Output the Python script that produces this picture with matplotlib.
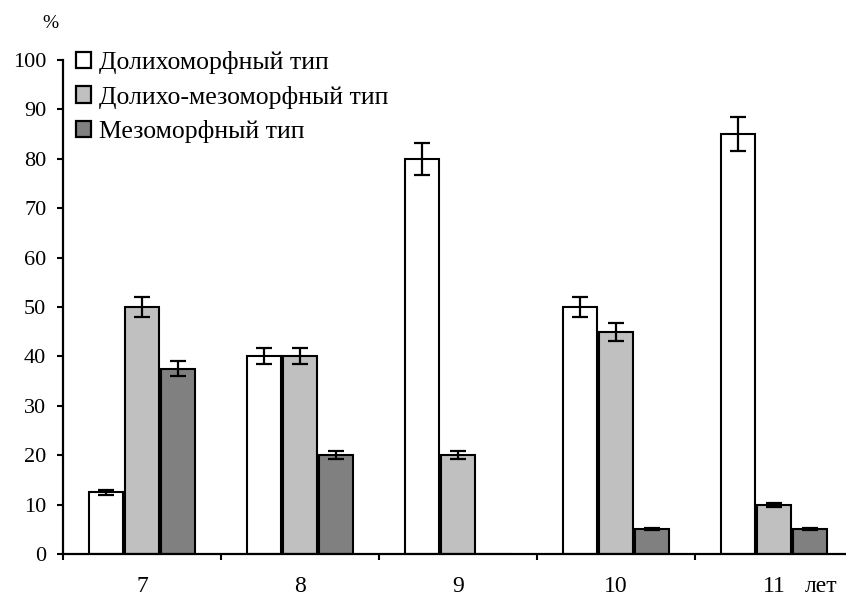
import numpy as np
import matplotlib
matplotlib.use("Agg")
import matplotlib.pyplot as plt
from matplotlib.patches import Patch

plt.rcParams['font.family'] = ['Liberation Serif', 'DejaVu Serif']

# Age groups and share of each body type, %
ages = ['7', '8', '9', '10', '11']
series_names = ['Долихоморфный тип', 'Долихо-мезоморфный тип', 'Мезоморфный тип']
dolicho = [12.5, 40, 80, 50, 85]
dolicho_meso = [50, 40, 20, 45, 10]
meso = [37.5, 20, 0, 5, 5]
dolicho_err = [0.5, 1.6, 3.2, 2.0, 3.4]
dolicho_meso_err = [2.0, 1.6, 0.8, 1.8, 0.4]
meso_err = [1.5, 0.8, 0.0, 0.2, 0.2]

colors = ['white', '#C0C0C0', '#808080']

fig = plt.figure(figsize=(8.46, 5.98), dpi=100)
ax = fig.add_axes([63 / 846, 44 / 598, 790 / 846, 494 / 598])

x = np.arange(len(ages))
width = 0.215
step = 0.228
values = [dolicho, dolicho_meso, meso]
errors = [dolicho_err, dolicho_meso_err, meso_err]
for i, (vals, errs, col) in enumerate(zip(values, errors, colors)):
    pos = x + (i - 1) * step
    ax.bar(pos, vals, width, color=col, edgecolor='black', linewidth=1.5, zorder=2)
    # no error bar where the value is zero
    mask = np.array(vals) > 0
    ax.errorbar(pos[mask], np.array(vals)[mask], yerr=np.array(errs)[mask], fmt='none',
                ecolor='black', elinewidth=1.6, capsize=5.5, capthick=1.6, zorder=3)

ax.set_xlim(-0.5, len(ages) - 0.5)
ax.set_ylim(0, 100)
ax.set_yticks(np.arange(0, 101, 10))
ax.set_xticks(x)
ax.set_xticklabels(ages)
ax.set_xticks(np.arange(-0.5, len(ages), 1), minor=True)
ax.tick_params(axis='x', which='major', length=0, pad=16, labelsize=17)
ax.tick_params(axis='x', which='minor', length=4, width=1.5, direction='out')
ax.tick_params(axis='y', length=4, width=1.5, direction='out', pad=8, labelsize=16)

ax.spines['top'].set_visible(False)
ax.spines['right'].set_visible(False)
ax.spines['left'].set_linewidth(1.6)
ax.spines['bottom'].set_linewidth(1.6)

fig.text(50 / 846, 1 - 23 / 598, '%', fontsize=14, va='center', ha='center')

# unit label on the same line as the age tick labels
fig.canvas.draw()
label_top = ax.get_xticklabels()[-1].get_window_extent().y1
fig.text(805 / 846, label_top / fig.bbox.height, 'лет', fontsize=17, va='top', ha='left')

handles = [Patch(facecolor=c, edgecolor='black', linewidth=1.6) for c in colors]
ax.legend(handles, series_names, loc='upper left', bbox_to_anchor=(76 / 846, 1 - 51 / 598),
          bbox_transform=fig.transFigure, frameon=False, fontsize=18.5,
          handlelength=0.6, handleheight=0.6, handletextpad=0.3, labelspacing=0.45,
          borderaxespad=0, borderpad=0)

fig.savefig('out.png', dpi=100)
